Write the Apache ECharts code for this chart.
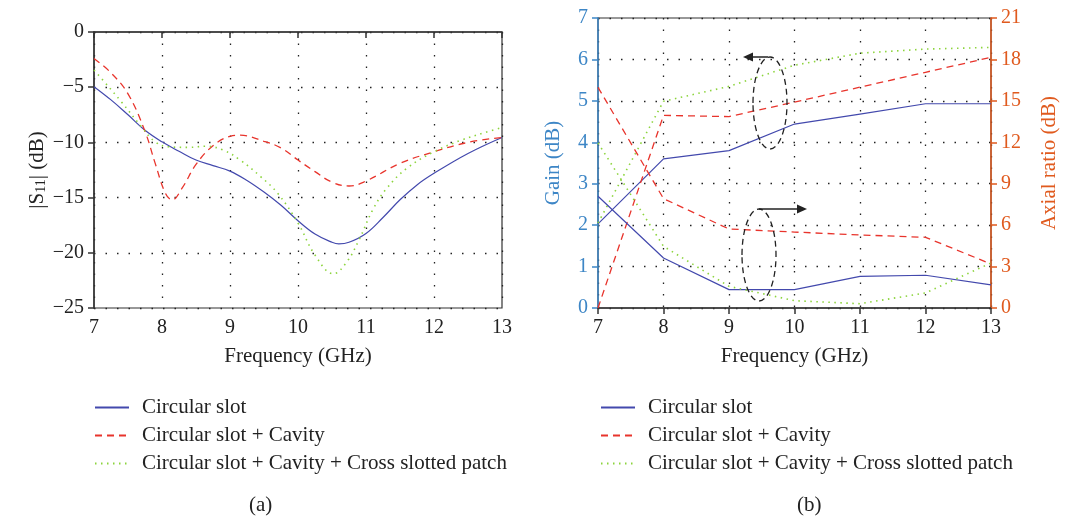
<!DOCTYPE html>
<html>
<head>
<meta charset="utf-8">
<script src="https://cdn.jsdelivr.net/npm/echarts@6/dist/echarts.min.js"></script>
<style>
  html, body { margin: 0; padding: 0; background: #fff; }
  #main { width: 1081px; height: 518px; }
</style>
</head>
<body>
<div id="main"></div>
<script>
// series names (shared by both panels)
var names = ['Circular slot', 'Circular slot + Cavity', 'Circular slot + Cavity + Cross slotted patch'];

// (a) |S11| curves
var fSlot = [7, 7.25, 7.5, 7.75, 8, 8.25, 8.5, 8.75, 9, 9.25, 9.5, 9.75, 10, 10.25, 10.5, 10.6, 10.75, 11, 11.25, 11.5, 11.75, 12, 12.5, 13];
var s11Slot = [-4.95, -6.15, -7.5, -8.9, -9.95, -10.8, -11.6, -12.1, -12.6, -13.45, -14.5, -15.7, -17.1, -18.3, -19.05, -19.2, -19.05, -18.25, -16.8, -15.2, -13.85, -12.8, -11.0, -9.55];

var fCavity = [7, 7.25, 7.5, 7.75, 7.9, 8.05, 8.15, 8.3, 8.5, 8.75, 9, 9.15, 9.5, 9.75, 10, 10.25, 10.5, 10.75, 11, 11.5, 12, 12.5, 13];
var s11Cavity = [-2.4, -3.7, -5.6, -9.0, -11.9, -14.6, -15.2, -14.1, -12.0, -10.3, -9.45, -9.35, -9.9, -10.5, -11.6, -12.65, -13.6, -13.95, -13.5, -11.9, -10.85, -10.0, -9.55];

var fCross = [7, 7.15, 7.4, 7.7, 7.9, 8.1, 8.4, 8.65, 8.9, 9.15, 9.45, 9.7, 10, 10.25, 10.52, 10.72, 10.9, 11.1, 11.3, 11.6, 12, 12.4, 12.75, 13];
var s11Cross = [-3.45, -4.5, -6.3, -8.6, -9.95, -10.4, -10.45, -10.35, -10.7, -11.6, -13.1, -14.6, -17.3, -20.2, -21.9, -20.8, -18.8, -16.1, -14.2, -12.35, -10.85, -9.8, -9.1, -8.65];

// (b) gain and axial ratio
var freqB = [7, 8, 9, 10, 11, 12, 13];
var gainSlot = [2.03, 3.6, 3.8, 4.44, 4.68, 4.93, 4.93];
var gainCavity = [0.0, 4.65, 4.62, 4.97, 5.33, 5.69, 6.05];
var gainCross = [2.05, 4.99, 5.35, 5.86, 6.15, 6.25, 6.29];
var arSlot = [8.09, 3.62, 1.33, 1.33, 2.29, 2.37, 1.67];
var arCavity = [15.98, 7.92, 5.72, 5.5, 5.29, 5.12, 3.19];
var arCross = [11.95, 4.47, 1.57, 0.53, 0.31, 1.09, 3.26];

var colors = ['#4349ad', '#e8342c', '#8cd43c'];
var dashes = ['solid', [7, 5], [1.5, 4.5]];
var widths = [1.2, 1.3, 1.6];
var gainColor = '#3d86c6';
var arColor = '#e05a1e';
var FONT = 'Liberation Serif';

function pairs(xs, ys) {
    var out = [];
    for (var i = 0; i < xs.length; i++) out.push([xs[i], ys[i]]);
    return out;
}
function minus(v) { return String(v).replace('-', '\u2212'); }

function lineSeries(k, xi, yi, data, smooth) {
    return {
        name: names[k],
        type: 'line',
        xAxisIndex: xi,
        yAxisIndex: yi,
        data: data,
        smooth: smooth,
        symbol: 'none',
        lineStyle: { color: colors[k], width: widths[k], type: dashes[k] },
        itemStyle: { color: colors[k] },
        animation: false
    };
}

var dotted = { show: true, lineStyle: { color: '#222', width: 1.3, type: [1.5, 10] } };

function legendAt(x) {
    return {
        data: names, orient: 'vertical', left: x, top: 397, padding: 0,
        itemWidth: 34, itemHeight: 14, itemGap: 7,
        selectedMode: false,
        itemStyle: { opacity: 0 },
        textStyle: { fontFamily: FONT, fontSize: 21, color: '#222', lineHeight: 21, padding: [0, 0, 0, 8] }
    };
}

var myChart = echarts.init(document.getElementById('main'));

var option = {
    backgroundColor: '#fff',
    animation: false,
    textStyle: { fontFamily: FONT },
    grid: [
        { left: 94, right: 579, top: 32, bottom: 210, show: true, borderColor: '#333', borderWidth: 1.2 },
        { left: 598, right: 90, top: 18, bottom: 210, show: true, borderColor: '#333', borderWidth: 1.2 }
    ],
    legend: [legendAt(94), legendAt(600)],
    xAxis: [
        {
            gridIndex: 0, type: 'value', min: 7, max: 13, interval: 1,
            name: 'Frequency (GHz)', nameLocation: 'middle', nameGap: 38,
            nameTextStyle: { fontFamily: FONT, fontSize: 21, color: '#222' },
            axisLine: { lineStyle: { color: '#333', width: 1.5 } },
            axisTick: { length: 6, lineStyle: { color: '#333', width: 1.5 } },
            axisLabel: { fontFamily: FONT, fontSize: 20, color: '#222', margin: 10 },
            splitLine: dotted
        },
        {
            gridIndex: 1, type: 'value', min: 7, max: 13, interval: 1,
            name: 'Frequency (GHz)', nameLocation: 'middle', nameGap: 38,
            nameTextStyle: { fontFamily: FONT, fontSize: 21, color: '#222' },
            axisLine: { lineStyle: { color: '#333', width: 1.5 } },
            axisTick: { length: 6, lineStyle: { color: '#333', width: 1.5 } },
            axisLabel: { fontFamily: FONT, fontSize: 20, color: '#222', margin: 10 },
            splitLine: dotted
        }
    ],
    yAxis: [
        {
            gridIndex: 0, type: 'value', min: -25, max: 0, interval: 5,
            name: '|S{sub|11}| (dB)', nameLocation: 'middle', nameGap: 44, nameRotate: 90,
            nameTextStyle: {
                fontFamily: FONT, fontSize: 21, color: '#222',
                rich: { sub: { fontFamily: FONT, fontSize: 14, color: '#222', padding: [8, 0, 0, 0] } }
            },
            axisLine: { lineStyle: { color: '#333', width: 1.5 } },
            axisTick: { length: 6, lineStyle: { color: '#333', width: 1.5 } },
            axisLabel: { fontFamily: FONT, fontSize: 20, color: '#222', margin: 10, formatter: minus },
            splitLine: dotted
        },
        {
            gridIndex: 1, type: 'value', min: 0, max: 7, interval: 1, position: 'left',
            name: 'Gain (dB)', nameLocation: 'middle', nameGap: 34, nameRotate: 90,
            nameTextStyle: { fontFamily: FONT, fontSize: 21, color: gainColor },
            axisLine: { show: true, lineStyle: { color: gainColor, width: 1.5 } },
            axisTick: { show: true, length: 6, lineStyle: { color: gainColor, width: 1.5 } },
            axisLabel: { fontFamily: FONT, fontSize: 20, color: gainColor, margin: 10 },
            splitLine: dotted
        },
        {
            gridIndex: 1, type: 'value', min: 0, max: 21, interval: 3, position: 'right',
            name: 'Axial ratio (dB)', nameLocation: 'middle', nameGap: 48, nameRotate: 90,
            nameTextStyle: { fontFamily: FONT, fontSize: 21, color: arColor },
            axisLine: { show: true, lineStyle: { color: arColor, width: 1.5 } },
            axisTick: { show: true, length: 6, lineStyle: { color: arColor, width: 1.5 } },
            axisLabel: { fontFamily: FONT, fontSize: 20, color: arColor, margin: 10 },
            splitLine: { show: false }
        }
    ],
    series: [
        lineSeries(0, 0, 0, pairs(fSlot, s11Slot), 0.4),
        lineSeries(1, 0, 0, pairs(fCavity, s11Cavity), 0.4),
        lineSeries(2, 0, 0, pairs(fCross, s11Cross), 0.4),
        lineSeries(0, 1, 1, pairs(freqB, gainSlot), false),
        lineSeries(1, 1, 1, pairs(freqB, gainCavity), false),
        lineSeries(2, 1, 1, pairs(freqB, gainCross), false),
        lineSeries(0, 1, 2, pairs(freqB, arSlot), false),
        lineSeries(1, 1, 2, pairs(freqB, arCavity), false),
        lineSeries(2, 1, 2, pairs(freqB, arCross), false)
    ],
    graphic: [
        // annotation: gain curves -> left axis
        { type: 'ellipse', shape: { cx: 770, cy: 103, rx: 17, ry: 46 }, style: { fill: null, stroke: '#222', lineWidth: 1.3, lineDash: [6, 4] }, z: 10 },
        { type: 'line', shape: { x1: 768, y1: 57, x2: 752, y2: 57 }, style: { stroke: '#222', lineWidth: 1.5 }, z: 10 },
        { type: 'polygon', shape: { points: [[743, 57], [753, 52.5], [753, 61.5]] }, style: { fill: '#222' }, z: 10 },
        // annotation: axial ratio curves -> right axis
        { type: 'ellipse', shape: { cx: 759, cy: 255, rx: 17, ry: 46 }, style: { fill: null, stroke: '#222', lineWidth: 1.3, lineDash: [6, 4] }, z: 10 },
        { type: 'line', shape: { x1: 759, y1: 209, x2: 798, y2: 209 }, style: { stroke: '#222', lineWidth: 1.5 }, z: 10 },
        { type: 'polygon', shape: { points: [[807, 209], [797, 204.5], [797, 213.5]] }, style: { fill: '#222' }, z: 10 },
        { type: 'text', left: 249, top: 495, style: { text: '(a)', font: '21px "Liberation Serif"', fill: '#222' } },
        { type: 'text', left: 797, top: 495, style: { text: '(b)', font: '21px "Liberation Serif"', fill: '#222' } }
    ]
};

myChart.setOption(option);
</script>
</body>
</html>
